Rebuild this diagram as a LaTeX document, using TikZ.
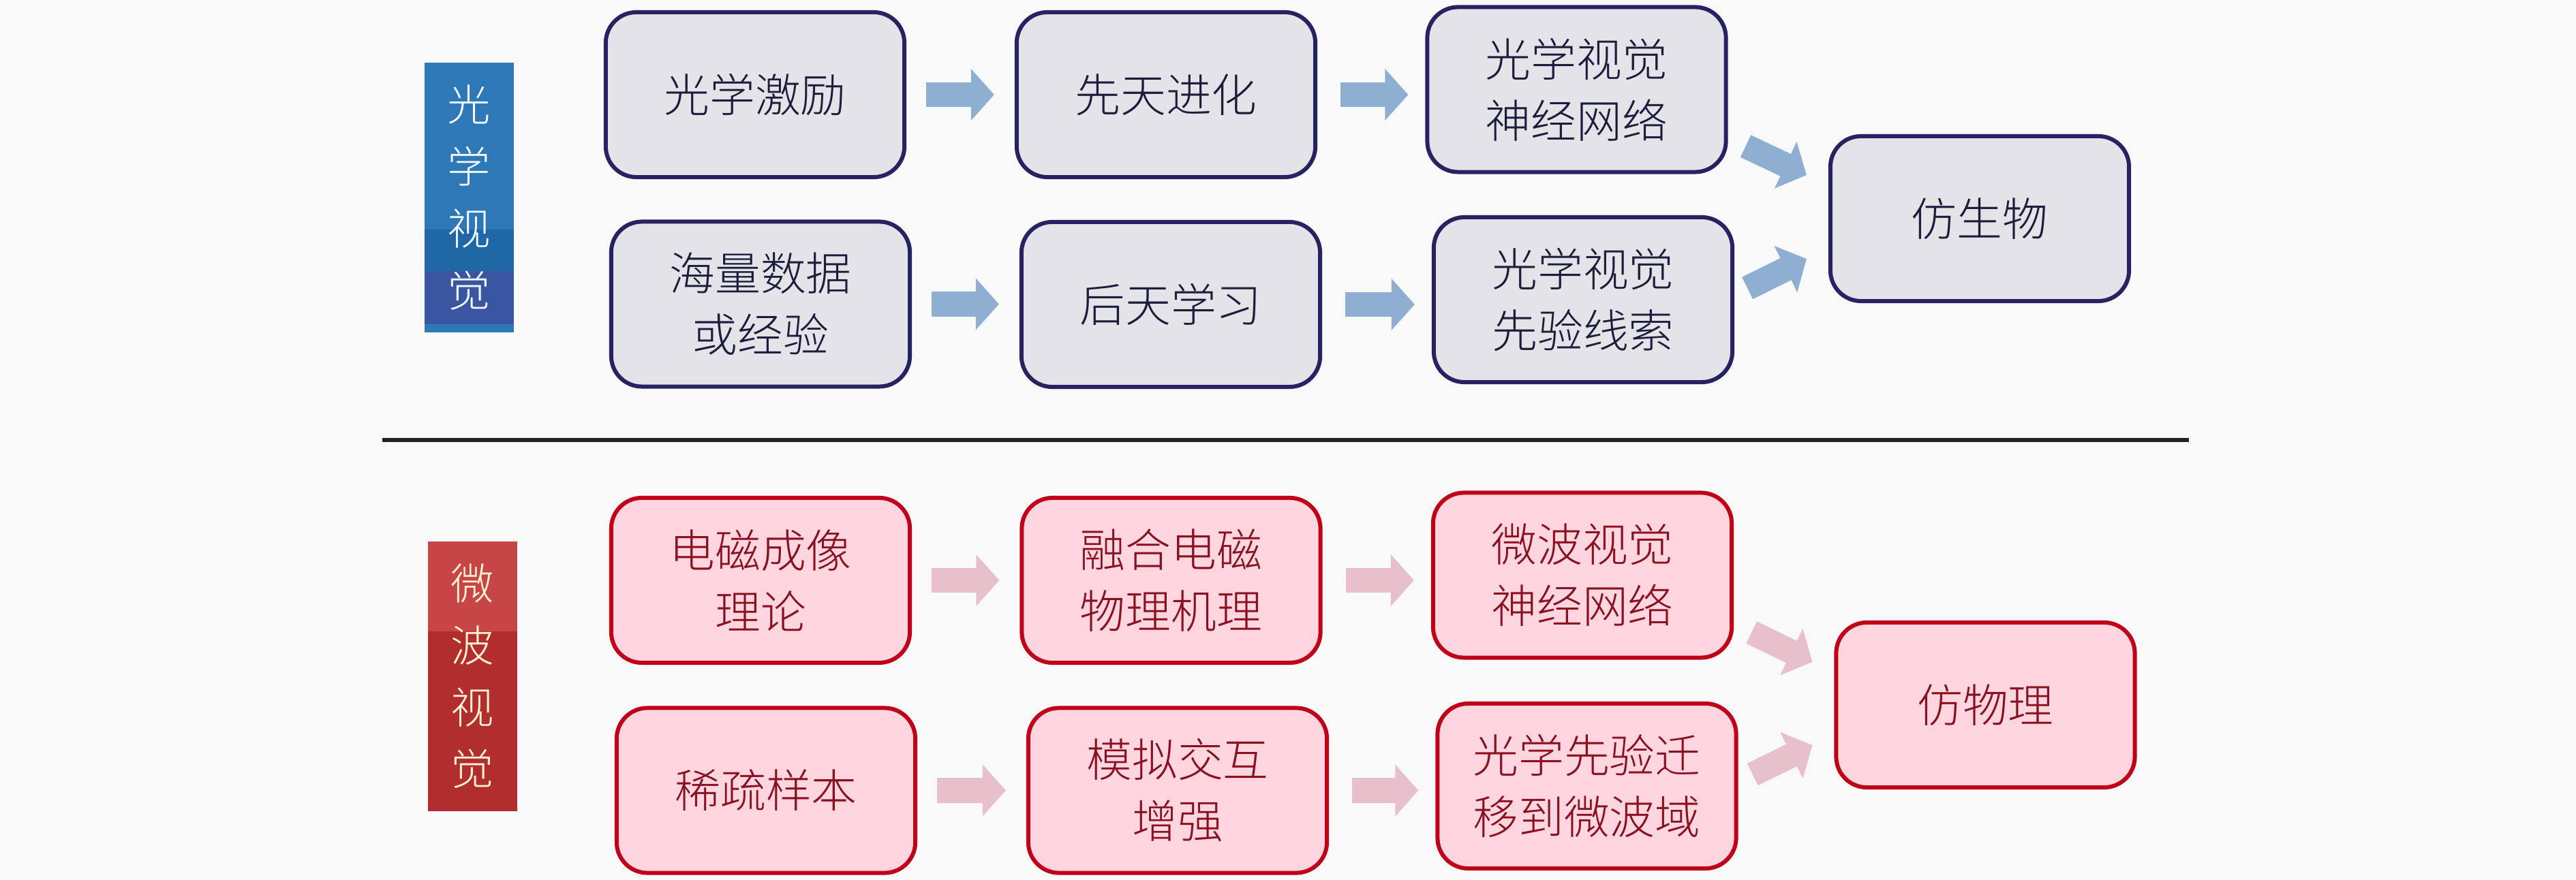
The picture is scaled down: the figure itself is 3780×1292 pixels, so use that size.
\documentclass[tikz,border=0pt]{standalone}
\usepackage{fontspec}
\newfontfamily\cjk{Noto Sans CJK SC}[UprightFont=* Light]
\usetikzlibrary{arrows.meta,calc}
\definecolor{bgc}{HTML}{F9F9F9}
\definecolor{bfill}{HTML}{E4E4E8}
\definecolor{bborder}{HTML}{272363}
\definecolor{btext}{HTML}{1C1C3C}
\definecolor{rfill}{HTML}{FFD6E0}
\definecolor{rborder}{HTML}{C00018}
\definecolor{rtext}{HTML}{8A1020}
\definecolor{barc}{HTML}{8EAFD2}
\definecolor{rarc}{HTML}{E8C0CC}
\definecolor{lbone}{HTML}{2E78B8}
\definecolor{lbtwo}{HTML}{1F68A5}
\definecolor{lbthree}{HTML}{3B56A0}
\definecolor{lrone}{HTML}{C84545}
\definecolor{lrtwo}{HTML}{B22D2D}
\definecolor{lbtext}{HTML}{F2F8FF}
\definecolor{lrtext}{HTML}{FFF3D6}
\definecolor{divc}{HTML}{222222}
\begin{document}
\begin{tikzpicture}[x=0.01cm,y=-0.01cm,
  box/.style={rounded corners=0.45cm, line width=0.06cm, minimum width=4.38cm,
    minimum height=2.42cm, align=center, inner sep=0pt,
    font=\cjk\fontsize{19}{25.6}\selectfont},
  bbox/.style={box, draw=bborder, fill=bfill, text=btext},
  rbox/.style={box, draw=rborder, fill=rfill, text=rtext},
  lab/.style={minimum width=1.31cm, minimum height=3.96cm, inner sep=0pt,
    align=center, font=\cjk\fontsize{18}{25.8}\selectfont},
  blab/.style={lab, text=lbtext, path picture={
    \fill[lbone] (path picture bounding box.north west) rectangle ([yshift=-2.45cm]path picture bounding box.north east);
    \fill[lbtwo] ([yshift=-2.45cm]path picture bounding box.north west) rectangle ([yshift=-3.06cm]path picture bounding box.north east);
    \fill[lbthree] ([yshift=-3.06cm]path picture bounding box.north west) rectangle ([yshift=0.12cm]path picture bounding box.south east);
    \fill[lbone] ([yshift=0.12cm]path picture bounding box.south west) rectangle (path picture bounding box.south east);}},
  rlab/.style={lab, text=lrtext, path picture={
    \fill[lrone] (path picture bounding box.north west) rectangle ([yshift=-1.32cm]path picture bounding box.north east);
    \fill[lrtwo] ([yshift=-1.32cm]path picture bounding box.north west) rectangle (path picture bounding box.south east);}},
  blockarrow/.style={line width=0.36cm, -{Triangle[length=0.34cm,width=0.74cm]}},
  barrow/.style={blockarrow, draw=barc},
  rarrow/.style={blockarrow, draw=rarc},
  firstgap/.style={shorten <=0.29cm, shorten >=0.30cm},
  secondgap/.style={shorten <=0.34cm, shorten >=0.25cm}
]
\useasboundingbox (0,0) rectangle (3780,1292);
\fill[bgc] (0,0) rectangle (3780,1292);

% labels
\node[blab] (LB) at (688.5,290) {光\\学\\视\\觉};
\node[rlab] (LR) at (693.5,993) {微\\波\\视\\觉};

% divider
\coordinate (divL) at (561,646);
\coordinate (divR) at (3212,646);
\draw[divc, line width=0.06cm] (divL) -- (divR);

% optical boxes
\node[bbox] (A1) at (1108,139) {光学激励};
\node[bbox] (A2) at (1711,139) {先天进化};
\node[bbox] (A3) at (2313.5,131.5) {光学视觉\\神经网络};
\node[bbox] (B1) at (1116,446.5) {海量数据\\或经验};
\node[bbox] (B2) at (1718,447) {后天学习};
\node[bbox] (B3) at (2323,440) {光学视觉\\先验线索};
\node[bbox] (C) at (2905,321) {仿生物};

% microwave boxes
\node[rbox] (D1) at (1116,852) {电磁成像\\理论};
\node[rbox] (D2) at (1718.5,852) {融合电磁\\物理机理};
\node[rbox] (D3) at (2322,844.5) {微波视觉\\神经网络};
\node[rbox] (E1) at (1124,1160.5) {稀疏样本};
\node[rbox] (E2) at (1728,1160.5) {模拟交互\\增强};
\node[rbox] (E3) at (2328.5,1154) {光学先验迁\\移到微波域};
\node[rbox] (F) at (2913.5,1035) {仿物理};

% optical arrows
\draw[barrow, firstgap] (A1.east) -- (A1.east -| A2.west);
\draw[barrow, secondgap] (A2.east) -- (A2.east -| A3.west);
\draw[barrow, firstgap] (B1.east) -- (B1.east -| B2.west);
\draw[barrow, secondgap] (B2.east) -- (B2.east -| B3.west);
\draw[barrow] ([shift={(26,-41)}]A3.south east) -- ([shift={(-32,-64)}]C.west);
\draw[barrow] ([shift={(19,-17)}]B3.east) -- ([shift={(-32,59)}]C.west);

% microwave arrows
\draw[rarrow, firstgap] (D1.east) -- (D1.east -| D2.west);
\draw[rarrow, secondgap] (D2.east) -- (D2.east -| D3.west);
\draw[rarrow, firstgap] (E1.east) -- (E1.east -| E2.west);
\draw[rarrow, secondgap] (E2.east) -- (E2.east -| E3.west);
\draw[rarrow] ([shift={(26,-40)}]D3.south east) -- ([shift={(-32,-63)}]F.west);
\draw[rarrow] ([shift={(21,-17)}]E3.east) -- ([shift={(-32,59)}]F.west);
\end{tikzpicture}
\end{document}
